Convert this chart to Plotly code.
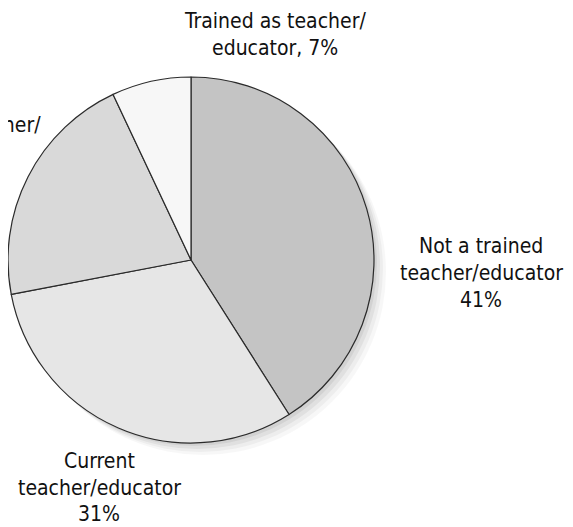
"""Pie chart: teacher/educator training status of respondents."""

import plotly.graph_objects as go

W, H = 573, 527
PAGE_OFFSET = 8  # default body margin of the html page

# Data (clockwise from 12 o'clock)
categories = [
    "Not a trained teacher/educator",
    "Current teacher/educator",
    "Former teacher/educator",
    "Trained as teacher/educator",
]
shares = [41, 31, 21, 7]
slice_colors = ["#c4c4c4", "#e6e6e6", "#d9d9d9", "#f7f7f7"]

# Label lines and where they sit (page pixel centres)
label_lines = [
    (["Not a trained", "teacher/educator", "41%"], 481, [246, 273, 300], "center"),
    (["Current", "teacher/educator", "31%"], 99, [461, 488, 514], "center"),
    (["Trained as teacher/", "educator, 7%"], 275, [21, 48], "center"),
    (["Former teacher/"], 43, [125], "right"),
]

# Pie geometry in page pixels
cx, cy, r = 191, 260, 183


def px_x(x):
    return (x - PAGE_OFFSET) / W


def px_y(y):
    return 1 - (y - PAGE_OFFSET) / H


fig = go.Figure()

fig.add_trace(go.Pie(
    labels=categories,
    values=shares,
    sort=False,
    direction="clockwise",
    rotation=0,
    marker=dict(colors=slice_colors, line=dict(color="#2b2b2b", width=1.2)),
    textinfo="none",
    hoverinfo="label+percent",
    showlegend=False,
    domain=dict(x=[px_x(cx - r), px_x(cx + r)], y=[px_y(cy + r), px_y(cy - r)]),
))

# Soft drop shadow behind the pie (bottom-right)
for off, op in [(12, 0.03), (9, 0.04), (6, 0.05), (3, 0.06)]:
    fig.add_shape(
        type="circle", xref="paper", yref="paper", layer="below",
        x0=px_x(cx - r + off), x1=px_x(cx + r + off),
        y0=px_y(cy + r + off), y1=px_y(cy - r + off),
        fillcolor="black", opacity=op, line_width=0,
    )

for lines, x, ys, align in label_lines:
    for text, y in zip(lines, ys):
        fig.add_annotation(
            text=text, xref="paper", yref="paper",
            x=px_x(x), y=px_y(y),
            xanchor=align, yanchor="middle",
            showarrow=False,
            font=dict(family="DejaVu Sans Condensed", size=21, color="#111111"),
        )

fig.update_layout(
    width=W, height=H,
    margin=dict(l=0, r=0, t=0, b=0),
    paper_bgcolor="white",
    plot_bgcolor="white",
)

fig.write_html("out.html")
